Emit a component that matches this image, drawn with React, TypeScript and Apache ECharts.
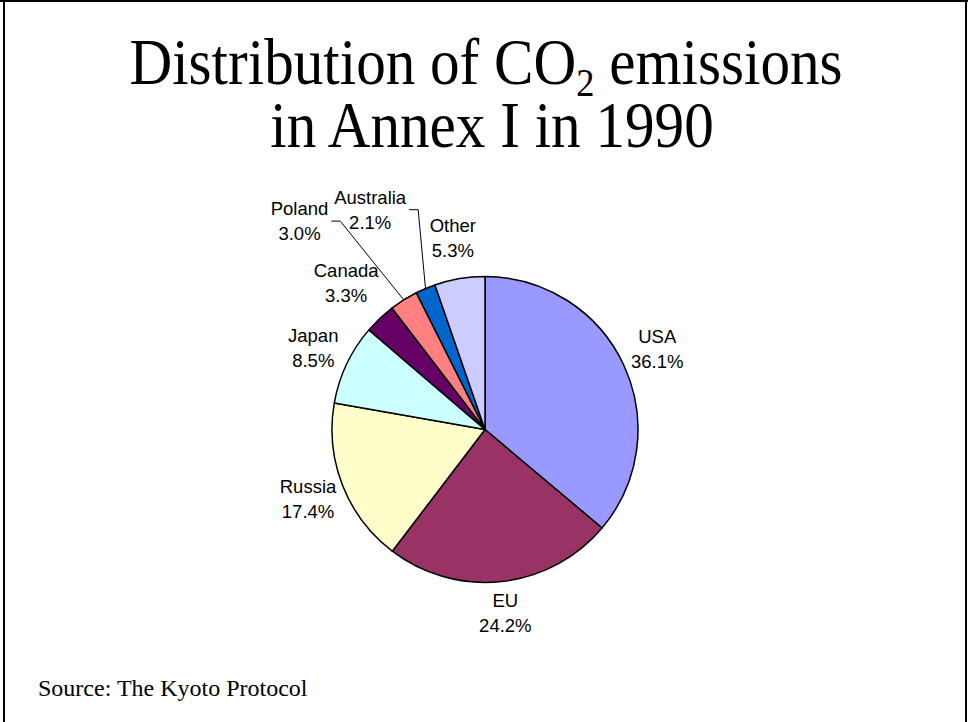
import React, { useEffect, useRef } from "react";
import * as echarts from "echarts";

// ---- data ----
const countries = ["USA", "EU", "Russia", "Japan", "Canada", "Poland", "Australia", "Other"];
const shares = [36.1, 24.2, 17.4, 8.5, 3.3, 3.0, 2.1, 5.3];
const sliceColors = ["#9999FF", "#993366", "#FFFFCC", "#CCFFFF", "#660066", "#FF8080", "#0066CC", "#CCCCFF"];
const leaderLabels = ["Poland", "Australia"];
const titleLine1 = { before: "Distribution of CO", sub: "2", after: " emissions" };
const titleLine2 = "in Annex I in 1990";
const sourceText = "Source: The Kyoto Protocol";

// ---- layout ----
const W = 968;
const H = 722;
const CX = 485;
const CY = 429.5;
const R = 153;
const LABEL_DIST: Record<string, number> = {
  USA: 190, EU: 185, Russia: 190, Japan: 190, Canada: 202, Poland: 279, Australia: 248, Other: 194,
};
const LABEL_ANGLE_SHIFT: Record<string, number> = { Poland: -9.6, Australia: -4.7 };
const TITLE_SIZE = 65;
const TITLE_SCALE_X = 0.91;

const total = shares.reduce((a, b) => a + b, 0);
const midAngles: number[] = [];
{
  let acc = 0;
  for (const v of shares) {
    midAngles.push(((acc + v / 2) / total) * 360);
    acc += v;
  }
}

export default function App() {
  const ref = useRef<HTMLDivElement>(null);
  useEffect(() => {
    if (!ref.current) return;
    const chart = echarts.init(ref.current, undefined, { renderer: "svg" });
    const serif = "'Liberation Serif', 'Times New Roman', serif";
    const sans = "'Liberation Sans', Arial, sans-serif";
    chart.setOption({
      animation: false,
      backgroundColor: "#ffffff",
      title: [
        {
          text: sourceText,
          left: 38,
          top: 676,
          padding: 0,
          textStyle: { fontFamily: serif, fontSize: 24, lineHeight: 24, fontWeight: "normal", color: "#000" },
        },
      ],
      graphic: [
        { type: "line", shape: { x1: 4, y1: 0, x2: 4, y2: H }, style: { stroke: "#000", lineWidth: 2 } },
        { type: "line", shape: { x1: 0, y1: 1, x2: W, y2: 1 }, style: { stroke: "#000", lineWidth: 2 } },
        { type: "line", shape: { x1: 966, y1: 0, x2: 966, y2: H }, style: { stroke: "#000", lineWidth: 2 } },
        {
          type: "text",
          x: 486,
          y: 62,
          scaleX: TITLE_SCALE_X,
          style: {
            text: `{a|${titleLine1.before}}{s|${titleLine1.sub}}{a|${titleLine1.after}}`,
            align: "center",
            verticalAlign: "middle",
            fill: "#000",
            rich: {
              a: { fontFamily: serif, fontSize: TITLE_SIZE, lineHeight: TITLE_SIZE, fill: "#000" },
              s: { fontFamily: serif, fontSize: 40, lineHeight: 20, padding: [40, 0, 0, 0], fill: "#000" },
            },
          },
        },
        {
          type: "text",
          x: 492,
          y: 125,
          scaleX: TITLE_SCALE_X,
          style: {
            text: titleLine2,
            align: "center",
            verticalAlign: "middle",
            fill: "#000",
            fontFamily: serif,
            fontSize: TITLE_SIZE,
            lineHeight: TITLE_SIZE,
          },
        },
      ],
      series: [
        {
          type: "pie",
          center: [CX, CY],
          radius: R,
          startAngle: 90,
          clockwise: true,
          silent: true,
          avoidLabelOverlap: false,
          itemStyle: { borderColor: "#000", borderWidth: 1.5 },
          label: {
            show: true,
            position: "outside",
            color: "#000",
            fontFamily: sans,
            fontSize: 18.5,
            lineHeight: 25,
            formatter: (p: any) => `${p.name}\n${Number(p.value).toFixed(1)}%`,
          },
          labelLine: { show: false, lineStyle: { color: "#000", width: 1 } },
          labelLayout: (p: any) => {
            const i = p.dataIndex;
            const name = countries[i];
            const ang = ((midAngles[i] + (LABEL_ANGLE_SHIFT[name] || 0)) * Math.PI) / 180;
            const d = LABEL_DIST[name];
            const x = CX + d * Math.sin(ang);
            const y = CY - d * Math.cos(ang);
            const out: any = { x, y, align: "center", verticalAlign: "middle" };
            if (leaderLabels.includes(name)) {
              const m = (midAngles[i] * Math.PI) / 180;
              const ex = CX + R * Math.sin(m);
              const ey = CY - R * Math.cos(m);
              const right = x + p.labelRect.width / 2;
              out.labelLinePoints = [
                [ex, ey],
                [right + 12, y],
                [right + 3, y],
              ];
            }
            return out;
          },
          data: countries.map((name, i) => ({
            name,
            value: shares[i],
            itemStyle: { color: sliceColors[i] },
            labelLine: leaderLabels.includes(name)
              ? { show: true, length: 10, length2: 10, lineStyle: { color: "#000", width: 1 } }
              : { show: false },
          })),
        },
      ],
    });
    return () => chart.dispose();
  }, []);
  return (
    <div
      ref={ref}
      style={{ position: "absolute", left: 0, top: 0, width: W, height: H, background: "#fff" }}
    />
  );
}
